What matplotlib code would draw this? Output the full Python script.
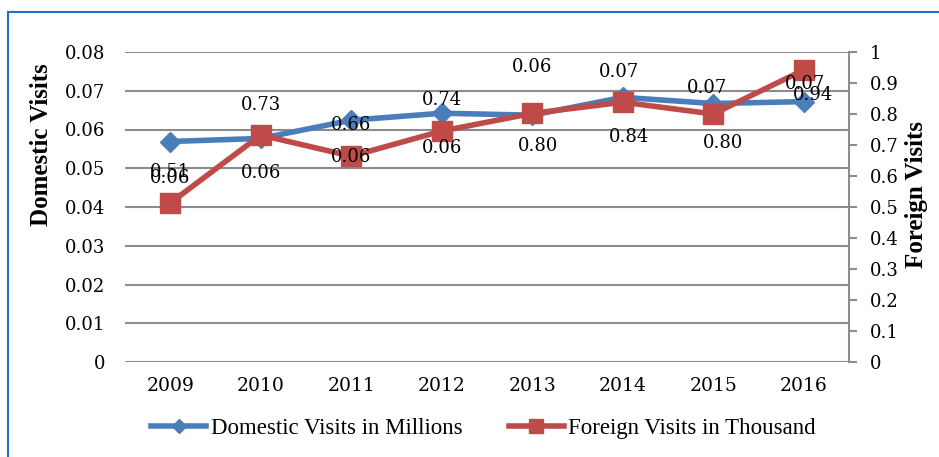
import numpy as np
import matplotlib
matplotlib.use("Agg")
import matplotlib.pyplot as plt
from matplotlib.patches import Rectangle

years = ["2009", "2010", "2011", "2012", "2013", "2014", "2015", "2016"]
domestic = [0.0569, 0.0577, 0.0624, 0.0642, 0.0637, 0.0683, 0.0667, 0.0672]
foreign = [0.513, 0.732, 0.664, 0.745, 0.802, 0.838, 0.800, 0.942]
domestic_labels = ["0.06", "0.06", "0.06", "0.06", "0.06", "0.07", "0.07", "0.07"]
foreign_labels = ["0.51", "0.73", "0.66", "0.74", "0.80", "0.84", "0.80", "0.94"]

plt.rcParams['font.family'] = ['Liberation Serif', 'DejaVu Serif']
num_font = ['DejaVu Serif']

blue = '#4a7ebb'
red = '#be4b48'
grid = '#8c8c8c'

fig = plt.figure(figsize=(9.39, 4.57), dpi=100)
fig.patches.append(Rectangle((8 / 939, -0.1), 1.2, 1 - 12 / 457 + 0.1,
                             transform=fig.transFigure, fill=False,
                             edgecolor='#1c74c9', linewidth=1.5))

ax = fig.add_axes([125 / 939, 95 / 457, 724 / 939, 310 / 457])
ax2 = ax.twinx()
x = np.arange(len(years))

for s in ax.spines.values():
    s.set_visible(False)
for s in ax2.spines.values():
    s.set_visible(False)
ax2.spines['right'].set_visible(True)
ax2.spines['right'].set_color(grid)
ax2.spines['right'].set_linewidth(1.5)

ax.set_ylim(0, 0.08)
ax.set_yticks(np.arange(0, 0.081, 0.01))
ax.set_yticklabels(["0", "0.01", "0.02", "0.03", "0.04", "0.05", "0.06", "0.07", "0.08"],
                   family=num_font, fontsize=13)
ax.yaxis.grid(True, color=grid, linewidth=1.5)
ax.set_axisbelow(True)
ax.tick_params(axis='y', length=0, pad=14)
ax.tick_params(axis='x', length=0, pad=11)
ax.set_xlim(-0.5, 7.5)
ax.set_xticks(x)
ax.set_xticklabels(years, family=num_font, fontsize=13.5)

ax2.set_ylim(0, 1)
ax2.set_yticks(np.arange(0, 1.01, 0.1))
ax2.set_yticklabels(["0", "0.1", "0.2", "0.3", "0.4", "0.5", "0.6", "0.7", "0.8", "0.9", "1"],
                    family=num_font, fontsize=13)
ax2.tick_params(axis='y', length=6, width=1.5, color=grid, pad=9)

# axis titles sit off-centre in the original
ax.set_ylabel("Domestic Visits", fontsize=18, fontweight='bold')
ax.yaxis.set_label_coords(-0.100, 0.70)
ax2.set_ylabel("Foreign Visits", fontsize=18, fontweight='bold')
ax2.yaxis.set_label_coords(1.077, 0.54)

l1, = ax.plot(x, domestic, color=blue, linewidth=4, marker='D', markersize=10,
              label="Domestic Visits in Millions", zorder=3)
l2, = ax2.plot(x, foreign, color=red, linewidth=4, marker='s', markersize=14,
               label="Foreign Visits in Thousand", zorder=3)

d_off = [(0, -36), (0, -35), (0, -37), (0, -35), (0, 48), (-4, 25), (-6, 16), (1, 18)]
f_off = [(0, 31), (0, 30), (0, 31), (0, 31), (6, -33), (6, -35), (10, -29), (9, -25)]
for i in range(len(years)):
    # both sets of labels go on ax2 so they sit above the lines
    ax2.annotate(domestic_labels[i], (x[i], domestic[i]), xycoords=ax.transData,
                 xytext=d_off[i], textcoords='offset pixels', ha='center', va='center',
                 fontsize=13, family=num_font, zorder=5)
    ax2.annotate(foreign_labels[i], (x[i], foreign[i]), xytext=f_off[i],
                 textcoords='offset pixels', ha='center', va='center',
                 fontsize=13, family=num_font, zorder=5)

fig.legend(handles=[l1, l2], loc='center', bbox_to_anchor=(0.515, 1 - 428 / 457),
           ncol=2, frameon=False, fontsize=16.5, handlelength=2.4, markerscale=0.75,
           handletextpad=0.2, columnspacing=2.0)

fig.savefig("out.png", dpi=100)
